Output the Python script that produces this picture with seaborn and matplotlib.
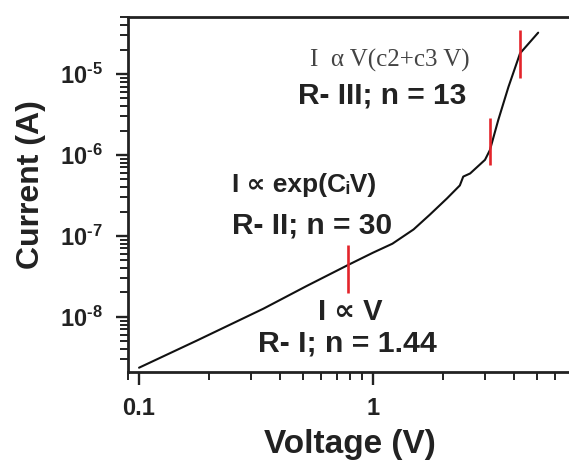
import numpy as np
import pandas as pd
import matplotlib
matplotlib.use("Agg")
import matplotlib.pyplot as plt
import seaborn as sns
from matplotlib.ticker import LogLocator, NullFormatter

# ---- data ----
voltage = [0.1, 0.177, 0.34, 0.52, 0.78, 1.0, 1.21, 1.49, 1.75, 2.07, 2.35, 2.43,
           2.6, 3.01, 3.16, 3.43, 3.79, 4.25, 5.08]
current = [2.35e-9, 5.1e-9, 1.26e-8, 2.4e-8, 4.35e-8, 6.2e-8, 8.0e-8, 1.2e-7,
           1.83e-7, 2.9e-7, 4.2e-7, 5.4e-7, 5.9e-7, 8.7e-7, 1.15e-6, 2.7e-6,
           6.9e-6, 1.8e-5, 3.24e-5]

# region boundary markers (red bars)
marker_v = [0.78, 3.16, 4.25]
marker_lo = [1.95e-8, 7.5e-7, 8.9e-6]
marker_hi = [7.7e-8, 2.86e-6, 3.5e-5]

x_ticks = [0.1, 1]
x_ticklabels = ["0.1", "1"]
y_ticks = [1e-8, 1e-7, 1e-6, 1e-5]
y_ticklabels = [r"$10^{\text{-8}}$", r"$10^{\text{-7}}$", r"$10^{\text{-6}}$", r"$10^{\text{-5}}$"]

region_texts = [
    ("I  \u03b1 V(c2+c3 V)", "serif"),
    ("R- III; n = 13", "sans"),
    ("I \u221d exp(C\u1d62V)", "sans"),
    ("R- II; n = 30", "sans"),
    ("I \u221d V", "sans"),
    ("R- I; n = 1.44", "sans"),
]

sns.set_theme(style="ticks")
plt.rcParams["font.family"] = ["Liberation Sans", "DejaVu Sans"]
plt.rcParams["font.weight"] = "bold"
plt.rcParams["mathtext.fontset"] = "custom"
plt.rcParams["mathtext.rm"] = "Liberation Sans:bold"
plt.rcParams["mathtext.bf"] = "Liberation Sans:bold"
plt.rcParams["mathtext.it"] = "Liberation Sans:bold:italic"
plt.rcParams["mathtext.default"] = "bf"

W, H = 569, 466
fig = plt.figure(figsize=(W / 100, H / 100), dpi=100)
fig.patch.set_facecolor("white")
# axes extends past right edge of the image as in the reference
left_px, right_px, top_px, bot_px = 128, 607, 17, 372
ax = fig.add_axes([left_px / W, 1 - bot_px / H, (right_px - left_px) / W, (bot_px - top_px) / H])
ax.set_facecolor("white")

df = pd.DataFrame({"Voltage": voltage, "Current": current})
sns.lineplot(data=df, x="Voltage", y="Current", ax=ax, color="#111111", lw=1.5,
             sort=True, estimator=None)
ax.set_xscale("log")
ax.set_yscale("log")
ax.vlines(marker_v, marker_lo, marker_hi, colors="#e3242b", lw=1.9, zorder=3)

ax.set_xlim(0.0897, 10)
ax.set_ylim(2.08e-9, 5.06e-5)

ax.set_xticks(x_ticks, x_ticklabels)
ax.set_yticks(y_ticks, y_ticklabels)
ax.xaxis.set_minor_locator(LogLocator(base=10, subs=np.arange(2, 10), numticks=50))
ax.yaxis.set_minor_locator(LogLocator(base=10, subs=np.arange(2, 10), numticks=50))
ax.xaxis.set_minor_formatter(NullFormatter())
ax.yaxis.set_minor_formatter(NullFormatter())

ax.tick_params(which="major", direction="out", length=9, width=1.7, colors="#222222")
ax.tick_params(which="minor", direction="out", length=5.5, width=1.4, colors="#222222")
ax.tick_params(axis="y", which="major", labelsize=17, pad=9)
ax.tick_params(axis="x", which="major", labelsize=17, pad=9)
for lab in ax.get_xticklabels() + ax.get_yticklabels():
    lab.set_fontweight("bold")
    lab.set_color("#222222")

for s in ax.spines.values():
    s.set_linewidth(2.0)
    s.set_color("#222222")

ax.set_xlabel("Voltage (V)", fontsize=24, fontweight="bold", color="#222222")
ax.set_ylabel("Current (A)", fontsize=23, fontweight="bold", color="#222222")
ax.xaxis.label.set(va="center", ha="center")
ax.xaxis.set_label_coords((350 - left_px) / (right_px - left_px), -(444 - bot_px) / (bot_px - top_px))
ax.yaxis.label.set(va="center", ha="center", rotation_mode="default")
ax.yaxis.set_label_coords(-(left_px - 31) / (right_px - left_px), (bot_px - 185) / (bot_px - top_px))

# annotation texts (left x, center y in pixels, font size)
pos = [(310, 60, 18), (298, 95, 21.5), (232, 185, 19), (232, 226, 21.5), (318, 312, 21), (258, 343, 21.8)]
for (txt, kind), (px, py, fs) in zip(region_texts, pos):
    if kind == "serif":
        fig.text(px / W, 1 - py / H, txt, ha="left", va="center", fontsize=fs,
                 family=["Liberation Serif", "DejaVu Serif"], fontweight="normal", color="#444444")
    else:
        fig.text(px / W, 1 - py / H, txt, ha="left", va="center", fontsize=fs,
                 family=["Liberation Sans", "DejaVu Sans"], fontweight="bold", color="#222222")

fig.savefig("out.png", dpi=100)
